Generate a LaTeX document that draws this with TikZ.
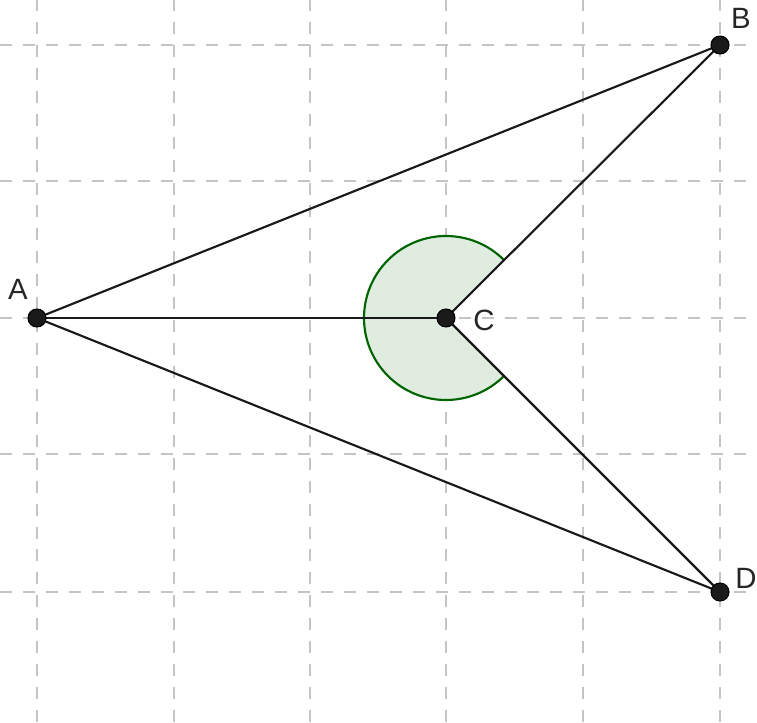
\documentclass[tikz,border=0pt]{standalone}
\usepackage{fontspec}
\setmainfont{Liberation Sans}
\definecolor{gridgray}{RGB}{196,196,196}
\definecolor{anglegreen}{RGB}{0,100,0}
\definecolor{anglefill}{RGB}{224,236,224}
\definecolor{ptfill}{RGB}{26,26,26}
\tikzset{
  gridline/.style={draw=gridgray, line width=1.5pt, dash pattern=on 9pt off 8.2pt},
  seg/.style={draw=black!90, line width=1.6pt},
  pt/.style={circle, fill=ptfill, draw=black, line width=0.8pt, inner sep=0pt, minimum size=13.5pt},
  lbl/.style={font=\fontsize{22}{25}\selectfont, text=black!85, inner sep=0pt}
}
\begin{document}
\begin{tikzpicture}[x=0.75pt,y=0.75pt]
\useasboundingbox (0,0) rectangle (757,722);
% grid
\foreach \gx in {37,173.6,310.2,446,583,720}
  \draw[gridline] (\gx,0) -- (\gx,722);
\foreach \gy in {677,540.5,404,267.5,130}
  \draw[gridline] (0,\gy) -- (757,\gy);
% points (coordinates)
\coordinate (Ac) at (37,404);
\coordinate (Bc) at (720,677);
\coordinate (Cc) at (446,404);
\coordinate (Dc) at (720,130);
% angle
\fill[anglefill] (Cc) -- ++(45:61.5pt) arc[start angle=45, end angle=315, radius=61.5pt] -- cycle;
\draw[anglegreen, line width=1.6pt] (Cc) ++(45:61.5pt) arc[start angle=45, end angle=315, radius=61.5pt];
% segments
\draw[seg] (Ac) -- (Bc) -- (Cc) -- (Dc) -- (Ac);
\draw[seg] (Ac) -- (Cc);
% point markers
\node[pt] (A) at (Ac) {};
\node[pt] (B) at (Bc) {};
\node[pt] (C) at (Cc) {};
\node[pt] (D) at (Dc) {};
% labels
\node[lbl] (lA) at (18,433) {A};
\node[lbl] (lB) at (741,704) {B};
\node[lbl] (lC) at (484,402) {C};
\node[lbl] (lD) at (746,144) {D};
\end{tikzpicture}
\end{document}
